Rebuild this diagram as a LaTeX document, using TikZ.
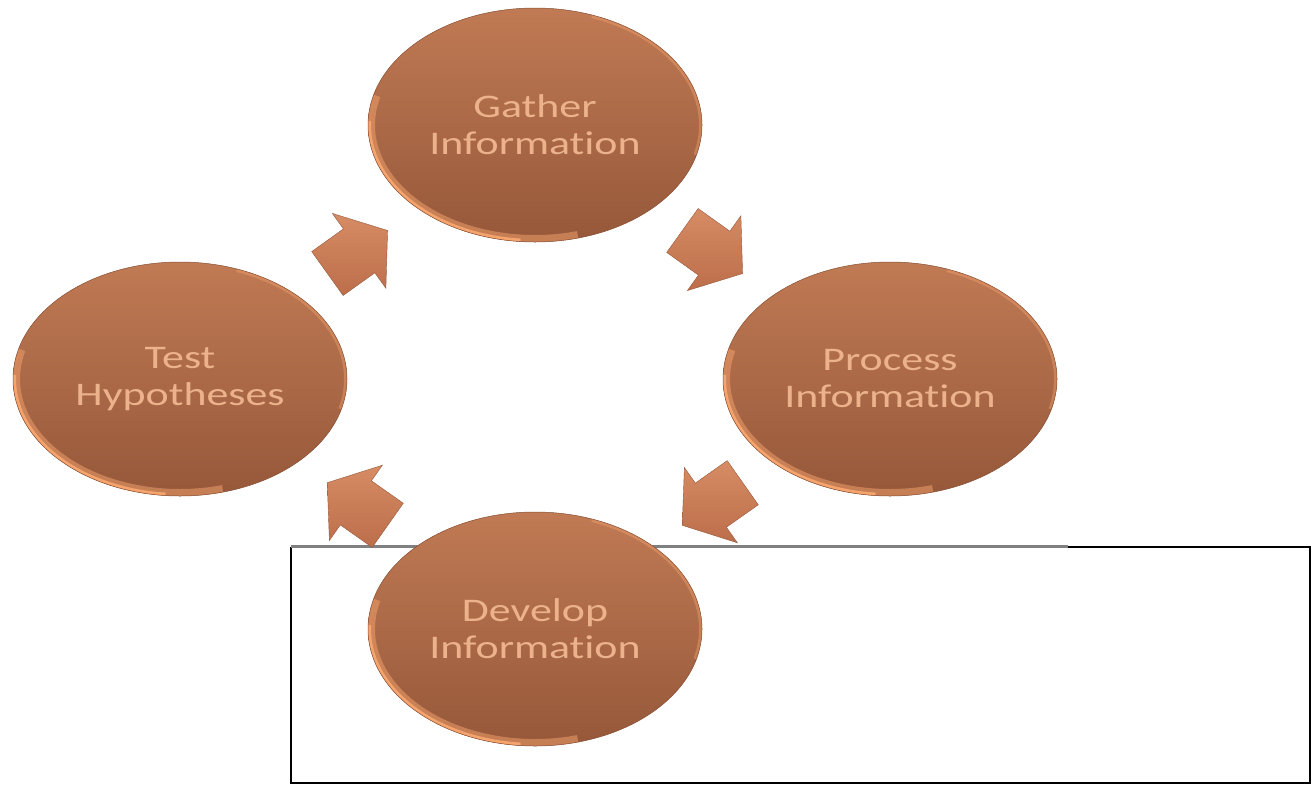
\documentclass[tikz,border=0pt]{standalone}
\usepackage{fontspec}
\newfontfamily\stagefont[FakeStretch=1.33,Ligatures=NoCommon]{Carlito}
\usetikzlibrary{shapes.geometric,calc}

\definecolor{stagetop}{RGB}{192,122,84}
\definecolor{stagebottom}{RGB}{150,88,58}
\definecolor{stagetext}{RGB}{236,178,140}
\definecolor{stagerim}{RGB}{246,164,110}
\definecolor{arrowtop}{RGB}{214,140,100}
\definecolor{arrowbottom}{RGB}{188,110,74}

\tikzset{
  flowarrow/.pic={
    \path[top color=arrowtop, bottom color=arrowbottom, draw=arrowbottom!80!black, line width=0.4pt]
      (-37,-27) -- (2,-27) -- (2,-46) -- (37,0) -- (2,46) -- (2,27) -- (-37,27) -- cycle;
  }
}

\begin{document}
\begin{tikzpicture}[x=1pt,y=-1pt,
  stage/.style={ellipse, minimum width=334pt, minimum height=234pt, inner sep=0pt,
    top color=stagetop, bottom color=stagebottom, draw=stagebottom!90!black, line width=0.5pt,
    text=stagetext, font=\stagefont\fontsize{33}{37}\selectfont, align=center,
    path picture={
      \draw[stagerim, opacity=0.5, line width=14pt]
        ($(path picture bounding box.center)+(165:167pt and 117pt)$)
        arc[start angle=165, end angle=285, x radius=167pt, y radius=117pt];
      \draw[stagerim, line width=6pt]
        ($(path picture bounding box.center)+(178:167pt and 117pt)$)
        arc[start angle=178, end angle=265, x radius=167pt, y radius=117pt];
      \draw[stagerim, opacity=0.4, line width=6pt]
        ($(path picture bounding box.center)+(-15:167pt and 117pt)$)
        arc[start angle=-15, end angle=70, x radius=167pt, y radius=117pt];
    }},
  flow/.style={sloped, allow upside down}]
  \useasboundingbox (0,0) rectangle (1316,785);

  % frame behind the bottom stage
  \draw[line width=1.8pt] (1068,547) -- (1310,547) -- (1310,783) -- (291,783) -- (291,547);
  \draw[gray, line width=3pt] (291,546) -- (1068,546);

  % the four stages
  \node[stage] (gather) at (535,125) {Gather\\Information};
  \node[stage] (test) at (180,379) {Test\\Hypotheses};
  \node[stage] (process) at (890,379) {Process\\Information};
  \node[stage] (develop) at (535,629) {Develop\\Information};

  % block arrows, clockwise
  \path (test) -- pic[flow] (toGather) {flowarrow} (gather);
  \path (gather) -- pic[flow] (toProcess) {flowarrow} (process);
  \path (process) -- pic[flow] (toDevelop) {flowarrow} (develop);
  \path (develop) -- pic[flow] (toTest) {flowarrow} (test);
\end{tikzpicture}
\end{document}
